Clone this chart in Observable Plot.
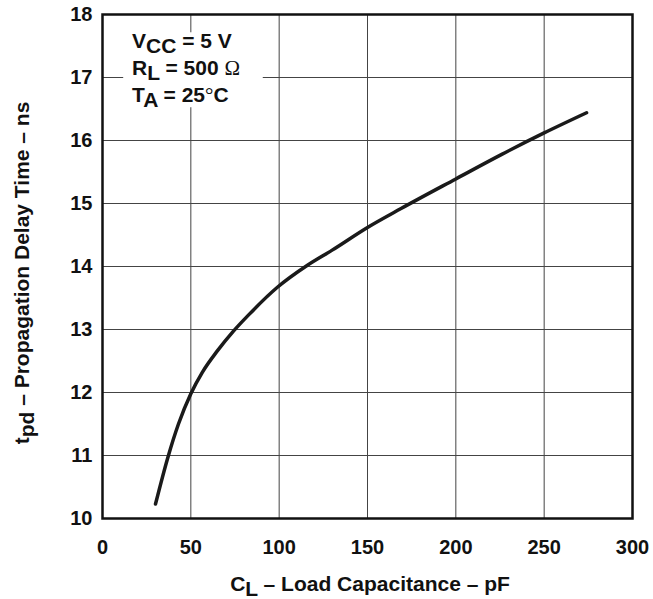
<!DOCTYPE html>
<html>
<head>
<meta charset="utf-8">
<script src="https://cdn.jsdelivr.net/npm/d3@7"></script>
<script src="https://cdn.jsdelivr.net/npm/@observablehq/plot@0.6"></script>
<style>
  html, body { margin: 0; padding: 0; background: #fff; }
  svg { font-family: "Liberation Sans", Arial, sans-serif; }
</style>
</head>
<body>
<div id="chart"></div>
<script>
// Load capacitance (pF) and propagation delay (ns)
const capacitance = [30, 37, 43, 50, 56.5, 65, 74, 83, 99, 116, 130, 150, 169, 200, 226, 250, 274];
const delay       = [10.23, 10.97, 11.5, 11.98, 12.32, 12.66, 12.97, 13.24, 13.67, 14.02, 14.26, 14.62, 14.92, 15.39, 15.78, 16.12, 16.44];
const xTicks = [0, 50, 100, 150, 200, 250, 300];
const yTicks = [10, 11, 12, 13, 14, 15, 16, 17, 18];
const conditions = [
  {main: "V", sub: "CC", rest: " = 5 V", sym: "", tail: ""},
  {main: "R", sub: "L", rest: " = 500 ", sym: "Ω", tail: ""},
  {main: "T", sub: "A", rest: " = 25", sym: "°", tail: "C"}
];

const data = capacitance.map((c, i) => ({c, t: delay[i]}));

const plot = Plot.plot({
  width: 653,
  height: 599,
  marginLeft: 102,
  marginRight: 21,
  marginTop: 14,
  marginBottom: 81,
  style: {fontFamily: "Liberation Sans, Arial, sans-serif", fontWeight: "bold", color: "#111", background: "#fff"},
  x: {domain: [0, 300]},
  y: {domain: [10, 18]},
  marks: [
    Plot.gridX(xTicks, {stroke: "#444", strokeOpacity: 1, strokeWidth: 1}),
    Plot.gridY(yTicks, {stroke: "#444", strokeOpacity: 1, strokeWidth: 1}),
    Plot.axisX(xTicks, {tickSize: 0, tickPadding: 21, label: null, fontSize: 20, fontWeight: "bold", fill: "#111", tickFormat: d => String(d)}),
    Plot.axisY(yTicks, {tickSize: 0, tickPadding: 10, label: null, fontSize: 20, fontWeight: "bold", fill: "#111", tickFormat: d => String(d)}),
    Plot.line(data, {x: "c", y: "t", stroke: "#1a1a1a", strokeWidth: 3.5, curve: "monotone-x"}),
    Plot.frame({stroke: "#111", strokeWidth: 2.5})
  ]
});

document.getElementById("chart").appendChild(plot);

const svg = d3.select(plot);
const xs = plot.scale("x"), ys = plot.scale("y");

// white box behind the conditions
const bx0 = xs.apply(12), bx1 = xs.apply(91);
const by0 = ys.apply(17.71), by1 = ys.apply(16.52);
svg.insert("rect", "g[aria-label=line]")
  .attr("x", bx0).attr("y", by0)
  .attr("width", bx1 - bx0).attr("height", by1 - by0)
  .attr("fill", "#fff");

const cond = svg.append("g")
  .attr("font-family", "Liberation Sans, Arial, sans-serif")
  .attr("text-anchor", "start")
  .attr("font-weight", "bold").attr("font-size", 21).attr("fill", "#111");
conditions.forEach((d, i) => {
  const t = cond.append("text")
    .attr("x", xs.apply(17))
    .attr("y", 48 + i * 27);
  t.append("tspan").text(d.main);
  t.append("tspan").attr("dy", 5).text(d.sub);
  t.append("tspan").attr("dy", -5).text(d.rest);
  if (d.sym) t.append("tspan").attr("font-family", "Liberation Serif, serif").attr("font-weight", "normal").text(d.sym);
  if (d.tail) t.append("tspan").text(d.tail);
});

// x axis label
const xl = svg.append("text")
  .attr("x", (xs.apply(0) + xs.apply(300)) / 2 + 3)
  .attr("y", 591)
  .attr("text-anchor", "middle")
  .attr("font-weight", "bold").attr("font-size", 21).attr("fill", "#111");
xl.append("tspan").text("C");
xl.append("tspan").attr("dy", 5).text("L");
xl.append("tspan").attr("dy", -5).text(" – Load Capacitance – pF");

// y axis label
const yl = svg.append("text")
  .attr("transform", `translate(29,${(ys.apply(10) + ys.apply(18)) / 2 + 7}) rotate(-90)`)
  .attr("text-anchor", "middle")
  .attr("font-weight", "bold").attr("font-size", 21).attr("fill", "#111");
yl.append("tspan").text("t");
yl.append("tspan").attr("dy", 5).text("pd");
yl.append("tspan").attr("dy", -5).text(" – Propagation Delay Time – ns");
</script>
</body>
</html>
